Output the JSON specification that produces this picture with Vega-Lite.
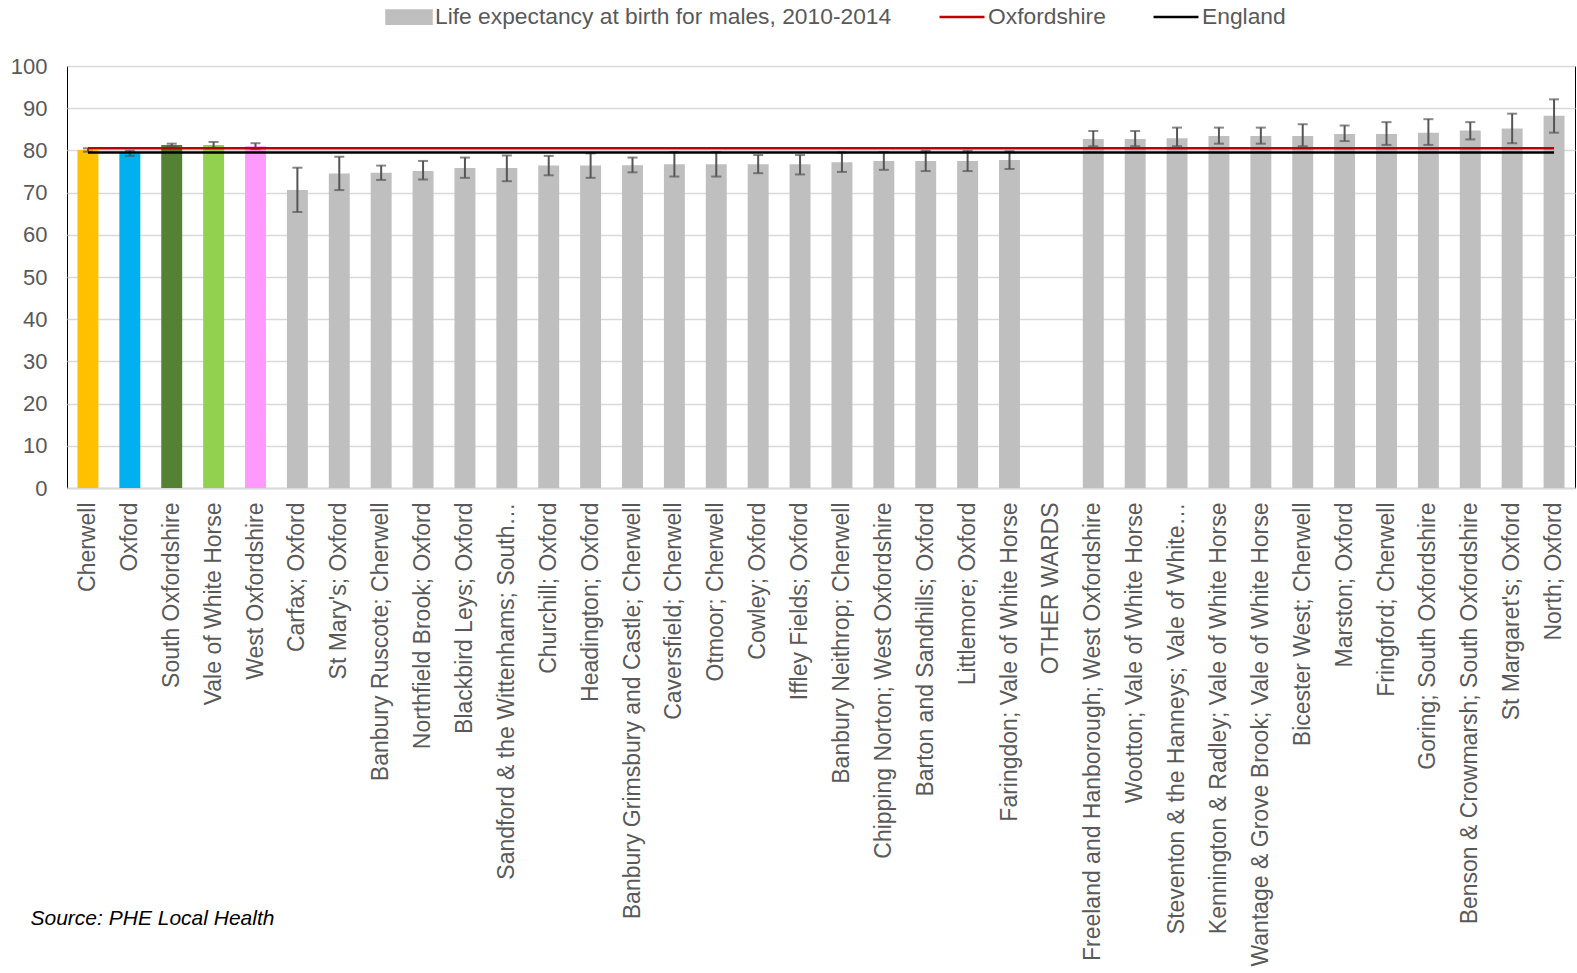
{
  "$schema": "https://vega.github.io/schema/vega-lite/v6.json",
  "width": 1508,
  "height": 422,
  "autosize": {"type": "none"},
  "padding": {"left": 67, "top": 66, "right": 2, "bottom": 485},
  "background": "#ffffff",
  "config": {
    "view": {"stroke": "#000000", "strokeWidth": 1},
    "font": "Liberation Sans"
  },
  "datasets": {
    "main": [
      {"area": "Cherwell", "group": "Cherwell", "le": 80.1, "lo": 79.7, "hi": 80.5},
      {"area": "Oxford", "group": "Oxford", "le": 79.3, "lo": 78.7, "hi": 79.9},
      {"area": "South Oxfordshire", "group": "South Oxfordshire", "le": 81.3, "lo": 80.9, "hi": 81.6},
      {"area": "Vale of White Horse", "group": "Vale of White Horse", "le": 81.3, "lo": 80.6, "hi": 82.0},
      {"area": "West Oxfordshire", "group": "West Oxfordshire", "le": 81.0, "lo": 80.3, "hi": 81.7},
      {"area": "Carfax; Oxford", "group": "Ward", "le": 70.6, "lo": 65.4, "hi": 75.9},
      {"area": "St Mary's; Oxford", "group": "Ward", "le": 74.5, "lo": 70.6, "hi": 78.5},
      {"area": "Banbury Ruscote; Cherwell", "group": "Ward", "le": 74.7, "lo": 73.0, "hi": 76.4},
      {"area": "Northfield Brook; Oxford", "group": "Ward", "le": 75.1, "lo": 73.1, "hi": 77.5},
      {"area": "Blackbird Leys; Oxford", "group": "Ward", "le": 75.8, "lo": 73.5, "hi": 78.3},
      {"area": "Sandford & the Wittenhams; South…", "group": "Ward", "le": 75.8, "lo": 72.7, "hi": 78.8},
      {"area": "Churchill; Oxford", "group": "Ward", "le": 76.4, "lo": 74.1, "hi": 78.7},
      {"area": "Headington; Oxford", "group": "Ward", "le": 76.4, "lo": 73.5, "hi": 79.3},
      {"area": "Banbury Grimsbury and Castle; Cherwell", "group": "Ward", "le": 76.5, "lo": 74.8, "hi": 78.3},
      {"area": "Caversfield; Cherwell", "group": "Ward", "le": 76.7, "lo": 73.8, "hi": 79.6},
      {"area": "Otmoor; Cherwell", "group": "Ward", "le": 76.7, "lo": 73.8, "hi": 79.6},
      {"area": "Cowley; Oxford", "group": "Ward", "le": 76.7, "lo": 74.6, "hi": 78.9},
      {"area": "Iffley Fields; Oxford", "group": "Ward", "le": 76.7, "lo": 74.3, "hi": 78.9},
      {"area": "Banbury Neithrop; Cherwell", "group": "Ward", "le": 77.2, "lo": 74.9, "hi": 79.5},
      {"area": "Chipping Norton; West Oxfordshire", "group": "Ward", "le": 77.5, "lo": 75.4, "hi": 79.6},
      {"area": "Barton and Sandhills; Oxford", "group": "Ward", "le": 77.5, "lo": 75.1, "hi": 79.9},
      {"area": "Littlemore; Oxford", "group": "Ward", "le": 77.5, "lo": 75.1, "hi": 79.9},
      {"area": "Faringdon; Vale of White Horse", "group": "Ward", "le": 77.7, "lo": 75.6, "hi": 79.8},
      {"area": "OTHER WARDS", "group": "Ward", "le": null, "lo": null, "hi": null},
      {"area": "Freeland and Hanborough; West Oxfordshire", "group": "Ward", "le": 82.7, "lo": 81.0, "hi": 84.6},
      {"area": "Wootton; Vale of White Horse", "group": "Ward", "le": 82.7, "lo": 81.0, "hi": 84.6},
      {"area": "Steventon & the Hanneys; Vale of White…", "group": "Ward", "le": 82.9, "lo": 81.0, "hi": 85.4},
      {"area": "Kennington & Radley; Vale of White Horse", "group": "Ward", "le": 83.4, "lo": 81.6, "hi": 85.4},
      {"area": "Wantage & Grove Brook; Vale of White Horse", "group": "Ward", "le": 83.4, "lo": 81.6, "hi": 85.4},
      {"area": "Bicester West; Cherwell", "group": "Ward", "le": 83.4, "lo": 81.0, "hi": 86.2},
      {"area": "Marston; Oxford", "group": "Ward", "le": 83.9, "lo": 82.2, "hi": 85.9},
      {"area": "Fringford; Cherwell", "group": "Ward", "le": 83.9, "lo": 81.3, "hi": 86.7},
      {"area": "Goring; South Oxfordshire", "group": "Ward", "le": 84.2, "lo": 81.3, "hi": 87.4},
      {"area": "Benson & Crowmarsh; South Oxfordshire", "group": "Ward", "le": 84.7, "lo": 82.6, "hi": 86.7},
      {"area": "St Margaret's; Oxford", "group": "Ward", "le": 85.2, "lo": 81.7, "hi": 88.7},
      {"area": "North; Oxford", "group": "Ward", "le": 88.2, "lo": 84.2, "hi": 92.1}
    ],
    "refs": [
      {"series": "Oxfordshire", "area": "Cherwell", "value": 80.5},
      {"series": "Oxfordshire", "area": "North; Oxford", "value": 80.5},
      {"series": "England", "area": "Cherwell", "value": 79.5},
      {"series": "England", "area": "North; Oxford", "value": 79.5}
    ]
  },
  "encoding": {
    "x": {
      "field": "area",
      "type": "nominal",
      "scale": {
        "domain": ["Cherwell", "Oxford", "South Oxfordshire", "Vale of White Horse", "West Oxfordshire", "Carfax; Oxford", "St Mary's; Oxford", "Banbury Ruscote; Cherwell", "Northfield Brook; Oxford", "Blackbird Leys; Oxford", "Sandford & the Wittenhams; South…", "Churchill; Oxford", "Headington; Oxford", "Banbury Grimsbury and Castle; Cherwell", "Caversfield; Cherwell", "Otmoor; Cherwell", "Cowley; Oxford", "Iffley Fields; Oxford", "Banbury Neithrop; Cherwell", "Chipping Norton; West Oxfordshire", "Barton and Sandhills; Oxford", "Littlemore; Oxford", "Faringdon; Vale of White Horse", "OTHER WARDS", "Freeland and Hanborough; West Oxfordshire", "Wootton; Vale of White Horse", "Steventon & the Hanneys; Vale of White…", "Kennington & Radley; Vale of White Horse", "Wantage & Grove Brook; Vale of White Horse", "Bicester West; Cherwell", "Marston; Oxford", "Fringford; Cherwell", "Goring; South Oxfordshire", "Benson & Crowmarsh; South Oxfordshire", "St Margaret's; Oxford", "North; Oxford"],
        "paddingInner": 0.5,
        "paddingOuter": 0.25
      },
      "axis": {
        "title": "Source: PHE Local Health",
        "titleX": -37,
        "titleY": 436,
        "titleAlign": "left",
        "titleBaseline": "alphabetic",
        "titleAnchor": null,
        "titleFont": "Liberation Sans",
        "titleFontSize": 21,
        "titleFontStyle": "italic",
        "titleFontWeight": "normal",
        "titleColor": "#000000",
        "labelAngle": -90,
        "labelFont": "Liberation Sans",
        "labelFontSize": 23,
        "labelColor": "#595959",
        "labelPadding": 14,
        "labelLimit": 0,
        "labelOverlap": false,
        "ticks": false,
        "tickSize": 0,
        "domain": true,
        "domainColor": "#d9d9d9",
        "domainWidth": 2,
        "grid": false
      }
    }
  },
  "layer": [
    {
      "data": {"name": "main"},
      "mark": {"type": "bar"},
      "encoding": {
        "y": {
          "field": "le",
          "type": "quantitative",
          "scale": {"domain": [0, 100], "nice": false},
          "axis": {
            "title": null,
            "values": [0, 10, 20, 30, 40, 50, 60, 70, 80, 90, 100],
            "labelFont": "Liberation Sans",
            "labelFontSize": 22,
            "labelColor": "#595959",
            "labelPadding": 20,
            "ticks": false,
            "tickSize": 0,
            "domain": false,
            "grid": true,
            "gridColor": "#d9d9d9",
            "gridWidth": 1.5
          }
        },
        "fill": {
          "field": "group",
          "type": "nominal",
          "scale": {
            "domain": ["Cherwell", "Oxford", "South Oxfordshire", "Vale of White Horse", "West Oxfordshire", "Ward"],
            "range": ["#ffc000", "#00b0f0", "#548235", "#92d050", "#ff99ff", "#bfbfbf"]
          },
          "legend": null
        }
      }
    },
    {
      "data": {"name": "main"},
      "mark": {"type": "rule", "color": "#555555", "strokeWidth": 2},
      "encoding": {
        "y": {"field": "lo", "type": "quantitative"},
        "y2": {"field": "hi"}
      }
    },
    {
      "data": {"name": "main"},
      "mark": {"type": "tick", "orient": "horizontal", "color": "#555555", "size": 10, "thickness": 2},
      "encoding": {
        "y": {"field": "lo", "type": "quantitative"}
      }
    },
    {
      "data": {"name": "main"},
      "mark": {"type": "tick", "orient": "horizontal", "color": "#555555", "size": 10, "thickness": 2},
      "encoding": {
        "y": {"field": "hi", "type": "quantitative"}
      }
    },
    {
      "data": {"name": "refs"},
      "mark": {"type": "line", "strokeWidth": 2.5},
      "encoding": {
        "y": {"field": "value", "type": "quantitative"},
        "detail": {"field": "series"},
        "stroke": {
          "field": "series",
          "type": "nominal",
          "scale": {
            "domain": ["Life expectancy at birth for males, 2010-2014", "Oxfordshire", "England"],
            "range": ["#bfbfbf", "#c00000", "#000000"]
          },
          "legend": {
            "title": null,
            "orient": "none",
            "legendX": 318,
            "legendY": -73,
            "direction": "horizontal",
            "padding": 0,
            "symbolSize": 2025,
            "symbolStrokeWidth": 2.5,
            "labelFont": "Liberation Sans",
            "labelFontSize": 22.8,
            "labelColor": "#595959",
            "labelOffset": 2,
            "labelLimit": 0,
            "columnPadding": 42,
            "encode": {
              "symbols": {
                "update": {
                  "size": {"value": 2025},
                  "strokeWidth": {"value": 2.5},
                  "shape": {"signal": "datum.value === 'Life expectancy at birth for males, 2010-2014' ? 'M-1,-0.29H1V0.29H-1Z' : 'M-1,0H1'"},
                  "fill": {"signal": "datum.value === 'Life expectancy at birth for males, 2010-2014' ? '#bfbfbf' : 'transparent'"},
                  "stroke": {"signal": "datum.value === 'Life expectancy at birth for males, 2010-2014' ? 'transparent' : (datum.value === 'Oxfordshire' ? '#c00000' : '#000000')"}
                }
              }
            }
          }
        }
      }
    }
  ]
}
